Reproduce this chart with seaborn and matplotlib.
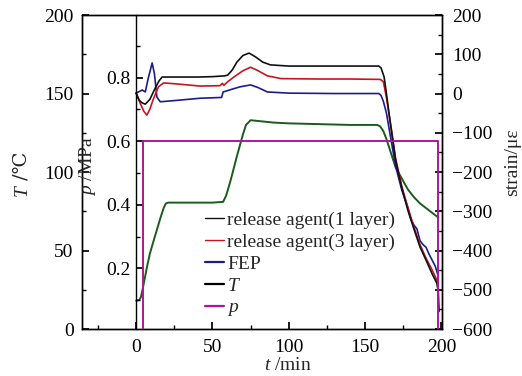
import matplotlib
matplotlib.use("Agg")
import matplotlib.pyplot as plt
from matplotlib.lines import Line2D
from matplotlib.ticker import MultipleLocator
import seaborn as sns

t_one = [0, 2, 4, 6, 9, 12.5, 15, 17, 20, 30, 40, 50, 58, 60, 63, 66, 70, 74, 78, 83, 88, 100,
         120, 140, 159, 160.5, 162.5, 164, 166, 168, 170, 174, 178, 182, 186, 190, 194, 197, 198, 198.5]
strain_one = [1, -17, -24, -27, -15, 14, 32, 42, 42, 42, 42, 43, 45, 47, 60, 80, 97, 103, 94, 80, 73, 70,
              70, 70, 70, 65, 42, 0, -60, -115, -170, -240, -297, -345, -391, -425, -460, -483, -505, -555]

t_three = [0, 2.6, 5, 7, 9, 11, 14.6, 18, 25, 42, 55, 56.5, 57.5, 60, 64, 70, 75, 80, 86, 95, 120,
           140, 160, 162, 164, 166, 168, 170, 174, 178, 182, 186, 190, 194, 197, 198]
strain_three = [1, -24, -45, -55, -40, -17, 17, 27, 25, 19, 20, 26, 21, 30, 42, 58, 67, 58, 45, 38, 37,
                37, 36, 30, -10, -60, -110, -165, -235, -290, -340, -385, -420, -450, -475, -490]

t_fep = [0, 1.5, 4, 6, 8, 10.5, 12, 13.6, 15.8, 25, 42, 56, 57, 62, 68, 75, 80, 86, 100, 130, 159,
         160.5, 162, 164, 166, 168, 170, 174, 178, 180, 182, 184, 186, 188, 190, 192, 194, 196, 197.5]
strain_fep = [1, 4, 9, 4, 40, 78, 50, -9, -21, -18, -12, -10, 4, 10, 17, 22, 15, 4, 1, 0, 0,
              -5, -20, -50, -95, -140, -185, -245, -290, -320, -335, -345, -375, -385, -392, -410, -425, -440, -460]

t_temp = [0, 2, 3, 4, 5, 7, 9, 12, 16, 18, 19.5, 21, 30, 40, 50, 57, 59, 62, 66, 70, 72, 75, 80, 90,
          100, 120, 140, 158, 160, 162, 164, 166, 168, 170, 174, 178, 182, 186, 190, 194, 198]
temp = [18, 18.5, 20, 24, 29, 39, 48, 58, 71, 77, 80, 80.5, 80.5, 80.5, 80.5, 81, 85, 95, 110, 124, 130,
        133, 132.5, 131.5, 131, 130.5, 130, 130, 129, 126, 121, 115, 109, 103, 96, 89, 84, 80, 77, 74, 71]

t_pres = [0, 4.5, 4.5, 197.5, 197.5]
pres = [0, 0, 0.6, 0.6, 0]

sns.set_theme(style="ticks")
plt.rcParams["font.family"] = ["Liberation Serif", "DejaVu Serif", "DejaVu Sans"]
plt.rcParams["mathtext.fontset"] = "custom"
plt.rcParams["mathtext.it"] = "Liberation Serif:italic"
plt.rcParams["mathtext.rm"] = "Liberation Serif"
plt.rcParams["font.size"] = 14

c_one, c_three, c_fep = "#111111", "#c8141e", "#1c1c8c"
c_temp, c_pres = "#1a5c1a", "#b0149e"

fig = plt.figure(figsize=(5.22, 3.76), dpi=100)
ax = fig.add_axes([0.157, 0.125, 0.69, 0.835])
ax_s = ax.twinx()
ax_p = ax.twinx()

sns.lineplot(x=t_temp, y=temp, ax=ax, color=c_temp, lw=1.4, estimator=None, sort=False)
sns.lineplot(x=t_pres, y=pres, ax=ax_p, color=c_pres, lw=1.4, estimator=None, sort=False)
sns.lineplot(x=t_fep, y=strain_fep, ax=ax_s, color=c_fep, lw=1.2, estimator=None, sort=False)
sns.lineplot(x=t_three, y=strain_three, ax=ax_s, color=c_three, lw=1.2, estimator=None, sort=False)
sns.lineplot(x=t_one, y=strain_one, ax=ax_s, color=c_one, lw=1.2, estimator=None, sort=False)

ax.set_xlim(-35.5, 200.5)
ax.set_ylim(0, 200)
ax_s.set_ylim(-600, 200)
ax_p.set_ylim(0.0094, 0.997)

ax.xaxis.set_major_locator(MultipleLocator(50))
ax.xaxis.set_minor_locator(MultipleLocator(25))
ax.yaxis.set_major_locator(MultipleLocator(50))
ax.yaxis.set_minor_locator(MultipleLocator(25))
ax_s.yaxis.set_major_locator(MultipleLocator(100))
ax_s.yaxis.set_minor_locator(MultipleLocator(50))
ax_p.set_yticks([0.2, 0.4, 0.6, 0.8])
ax_p.set_yticks([0.1, 0.3, 0.5, 0.7, 0.9], minor=True)

for a in (ax, ax_s, ax_p):
    for s in a.spines.values():
        s.set_color("black")
        s.set_linewidth(1.0)
    a.tick_params(which="both", direction="in", colors="black", labelsize=14)
    a.tick_params(which="major", length=5)
    a.tick_params(which="minor", length=3)

ax.tick_params(axis="y", pad=6)
ax.tick_params(axis="x", pad=7)
ax_s.tick_params(axis="y", pad=7)

# pressure axis sits on t = 0
ax_p.spines["left"].set_position(("data", 0))
ax_p.spines["left"].set_visible(True)
ax_p.spines["right"].set_visible(False)
ax_p.spines["top"].set_visible(False)
ax_p.spines["bottom"].set_visible(False)
ax_p.yaxis.set_ticks_position("left")
ax_p.yaxis.set_label_position("left")
ax_p.tick_params(axis="y", pad=4)

ax.set_xlabel(r"$t$ /min", fontsize=14, labelpad=0)
ax.xaxis.set_label_coords(0.572, -0.088)

# T label: italic letter plus unit in a font that has the degree-Celsius sign
fig.text(22 / 522, 1 - 191 / 376, "T", rotation=90, fontsize=14, style="italic",
         ha="center", va="center")
fig.text(22 / 522, 1 - 166 / 376, "/℃", rotation=90, fontsize=14,
         family=["DejaVu Serif", "DejaVu Sans"], ha="center", va="center")

ax_s.set_ylabel("strain/με", fontsize=14)
ax_s.yaxis.set_label_coords(1.172, 0.53)
ax_p.set_ylabel(r"$p$ /MPa", fontsize=14)
ax_p.yaxis.set_label_coords(0.044, 0.52)

handles = [
    Line2D([], [], color=c_one, lw=1.0),
    Line2D([], [], color=c_three, lw=1.0),
    Line2D([], [], color=c_fep, lw=1.6),
    Line2D([], [], color="black", lw=1.6),
    Line2D([], [], color=c_pres, lw=1.6),
]
labels = ["release agent(1 layer)", "release agent(3 layer)", "FEP", r"$T$", r"$p$"]
ax_s.legend(handles, labels, loc="upper left", bbox_to_anchor=(0.32, 0.4),
            frameon=False, fontsize=14, handlelength=1.0, handletextpad=0.15,
            labelspacing=0.22, borderaxespad=0)

fig.savefig("out.png", dpi=100)
